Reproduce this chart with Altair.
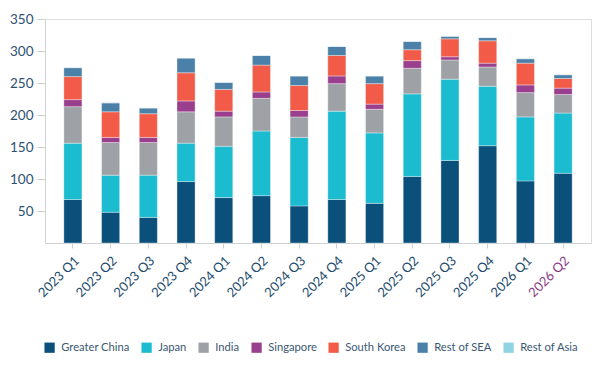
import altair as alt
import pandas as pd

# Quarterly values by region (bottom to top of each stack)
quarters = ["2023 Q1", "2023 Q2", "2023 Q3", "2023 Q4",
            "2024 Q1", "2024 Q2", "2024 Q3", "2024 Q4",
            "2025 Q1", "2025 Q2", "2025 Q3", "2025 Q4",
            "2026 Q1", "2026 Q2"]
regions = ["Greater China", "Japan", "India", "Singapore",
           "South Korea", "Rest of SEA", "Rest of Asia"]
greater_china = [68, 48, 40, 96, 71, 74, 58, 68, 62, 104, 129, 152, 97, 109]
japan = [88, 58, 66, 60, 80, 101, 107, 138, 110, 129, 127, 93, 100, 94]
india = [57, 51, 51, 49, 46, 51, 32, 43, 37, 40, 30, 30, 38, 29]
singapore = [11, 8, 8, 17, 9, 10, 10, 12, 8, 12, 5, 6, 12, 10]
south_korea = [36, 40, 37, 44, 34, 42, 39, 32, 32, 17, 28, 35, 34, 15]
rest_of_sea = [14, 14, 9, 23, 11, 15, 15, 14, 12, 13, 4, 5, 7, 6]
rest_of_asia = [0, 0, 0, 0, 0, 0, 0, 0, 0, 0, 0, 0, 0, 0]

colors = ["#0b4f7b", "#1bbccf", "#9ea2a6", "#9a3f8e",
          "#f15b47", "#4b80a8", "#8fd4e0"]

series = [greater_china, japan, india, singapore,
          south_korea, rest_of_sea, rest_of_asia]
rows = []
for idx, (region, vals) in enumerate(zip(regions, series)):
    for q, v in zip(quarters, vals):
        rows.append({"quarter": q, "region": region, "value": v, "order": idx})
df = pd.DataFrame(rows)

FONT = "Lato"

chart = alt.Chart(df).mark_bar(
    stroke="white", strokeWidth=0.5, strokeOpacity=0.7
).encode(
    x=alt.X(
        "quarter:N",
        sort=quarters,
        title=None,
        scale=alt.Scale(paddingInner=0.52, paddingOuter=0.5),
        axis=alt.Axis(
            labelAngle=-45,
            labelFontSize=13,
            labelFont=FONT,
            labelColor={"condition": {"test": "datum.value === '2026 Q2'",
                                      "value": "#8e3a86"},
                        "value": "#1d4b6c"},
            labelPadding=6,
            domainColor="#cdd1d4",
            tickColor="#cdd1d4",
            tickSize=5,
        ),
    ),
    y=alt.Y(
        "value:Q",
        stack="zero",
        title=None,
        scale=alt.Scale(domain=[0, 350], nice=False),
        axis=alt.Axis(
            values=[50, 100, 150, 200, 250, 300, 350],
            grid=False,
            labelFontSize=13.5,
            labelFont=FONT,
            labelColor="#2d5070",
            labelPadding=4,
            domainColor="#cdd1d4",
            tickColor="#cdd1d4",
            tickSize=8,
        ),
    ),
    color=alt.Color(
        "region:N",
        sort=regions,
        scale=alt.Scale(domain=regions, range=colors),
        legend=alt.Legend(
            title=None,
            orient="none",
            direction="horizontal",
            legendX=-1,
            legendY=323,
            symbolType="square",
            symbolSize=105,
            symbolStrokeWidth=0,
            symbolOpacity=1,
            labelFont=FONT,
            labelFontSize=11.2,
            labelColor="#3a5872",
            columnPadding=11,
            labelOffset=6,
        ),
    ),
    order=alt.Order("order:Q", sort="ascending"),
).properties(
    width=546,
    height=224,
    padding={"left": 45, "top": 19, "right": 16, "bottom": 127},
    autosize=alt.AutoSizeParams(type="none"),
).configure_view(
    stroke=None
).configure(
    background="white"
)

chart.save("out.html", embed_options={"renderer": "svg", "actions": False})
